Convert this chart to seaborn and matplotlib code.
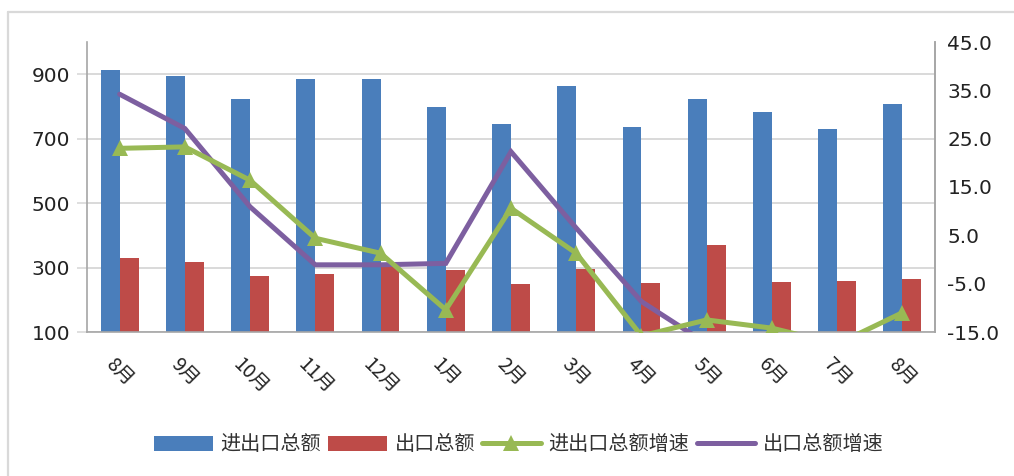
import numpy as np
import pandas as pd
import matplotlib
matplotlib.use("Agg")
import matplotlib.pyplot as plt
from matplotlib.patches import Patch
from matplotlib.lines import Line2D
from matplotlib.ticker import FixedLocator, FormatStrFormatter
import seaborn as sns

# Monthly trade data (亿美元 / %)
months = ["8月", "9月", "10月", "11月", "12月", "1月", "2月",
          "3月", "4月", "5月", "6月", "7月", "8月"]
total_trade = [912, 896, 822, 884, 884, 798, 747, 863, 736, 824, 783, 729, 808]
exports = [329, 317, 275, 281, 301, 292, 250, 296, 253, 371, 255, 258, 263]
total_growth = [23.0, 23.3, 16.4, 4.4, 1.3, -10.4, 10.6, 1.3, -15.8, -12.5, -14.2, -17.5, -11.0]
export_growth = [34.2, 27.1, 10.9, -1.1, -1.1, -0.8, 22.3, 6.5, -8.7, -17.4, -18.0, -19.0, -17.0]

series_names = ["进出口总额", "出口总额", "进出口总额增速", "出口总额增速"]
colors = ["#4A7EBB", "#BE4B48", "#98B954", "#7D5FA0"]

sns.set_style("white")
plt.rcParams["font.family"] = ["DejaVu Sans", "Noto Sans CJK SC"]

pos = np.arange(len(months))
bars = pd.DataFrame({
    "pos": np.concatenate([pos, pos]),
    "value": total_trade + exports,
    "series": [series_names[0]] * len(pos) + [series_names[1]] * len(pos),
})

fig = plt.figure(figsize=(10.14, 4.76), dpi=100)
ax = fig.add_axes([87 / 1014, 1 - 332 / 476, (935 - 87) / 1014, (332 - 42) / 476])

sns.barplot(data=bars, x="pos", y="value", hue="series",
            hue_order=series_names[:2], palette=colors[:2],
            width=0.58, gap=0, saturation=1, dodge=True, linewidth=0,
            legend=False, ax=ax, errorbar=None)

ax.set_ylim(100, 1000)
ax.set_xlim(-0.5, len(months) - 0.5)
ax.set_yticks([100, 300, 500, 700, 900])
ax.set_axisbelow(True)
ax.yaxis.grid(True, color="#D9D9D9", linewidth=1.4)
ax.xaxis.grid(False)
ax.set_xlabel("")
ax.set_ylabel("")

gray = "#A6A6A6"
for side in ["left", "bottom", "right"]:
    ax.spines[side].set_color(gray)
    ax.spines[side].set_linewidth(1.2)
ax.spines["top"].set_visible(False)

ax.tick_params(axis="y", which="major", length=7, width=1.2, color="#D9D9D9",
               pad=5, labelsize=14.5, labelcolor="#222222")
ax.set_xticks(pos)
ax.set_xticklabels(months, rotation=-45, ha="center", va="top",
                   fontsize=14, family=["Noto Sans CJK SC", "DejaVu Sans"],
                   color="#222222")
ax.tick_params(axis="x", which="major", length=0, pad=16)
ax.xaxis.set_minor_locator(FixedLocator(np.arange(-0.5, len(months), 1.0)))
ax.tick_params(axis="x", which="minor", length=5, width=1.2, color="#D9D9D9")

# Growth rates on the secondary axis
ax2 = ax.twinx()
sns.lineplot(x=pos, y=export_growth, ax=ax2, color=colors[3],
             linewidth=3.6, solid_joinstyle="miter")
sns.lineplot(x=pos, y=total_growth, ax=ax2, color=colors[2],
             linewidth=3.6, marker="^", markersize=12,
             markeredgecolor=colors[2], markeredgewidth=0)
ax2.set_ylim(-15, 45)
ax2.set_xlim(-0.5, len(months) - 0.5)
ax2.set_yticks(np.arange(-15, 46, 10))
ax2.yaxis.set_major_formatter(FormatStrFormatter("%.1f"))
ax2.tick_params(axis="y", length=0, pad=9, labelsize=14.5, labelcolor="#222222")
ax2.grid(False)
ax2.set_ylabel("")
for side in ["left", "bottom", "top"]:
    ax2.spines[side].set_visible(False)
ax2.spines["right"].set_color(gray)
ax2.spines["right"].set_linewidth(1.2)

handles = [
    Patch(facecolor=colors[0], edgecolor="none"),
    Patch(facecolor=colors[1], edgecolor="none"),
    Line2D([], [], color=colors[2], linewidth=3.6, marker="^", markersize=12,
           markeredgewidth=0),
    Line2D([], [], color=colors[3], linewidth=3.6),
]
fig.legend(handles, series_names, loc="center", ncol=4, frameon=False,
           bbox_to_anchor=(519 / 1014, 1 - 445 / 476),
           prop={"family": ["Noto Sans CJK SC"], "size": 14.5},
           handlelength=2.9, handleheight=0.7, handletextpad=0.4,
           columnspacing=0.35, labelcolor="#333333")

# Outer chart frame (left and top edges)
fig.add_artist(Line2D([8 / 1014, 8 / 1014], [0, 1 - 12 / 476],
                      transform=fig.transFigure, color="#D9D9D9", linewidth=1.6))
fig.add_artist(Line2D([8 / 1014, 1], [1 - 12 / 476, 1 - 12 / 476],
                      transform=fig.transFigure, color="#D9D9D9", linewidth=1.6))

fig.savefig("out.png", dpi=100, facecolor="white")
